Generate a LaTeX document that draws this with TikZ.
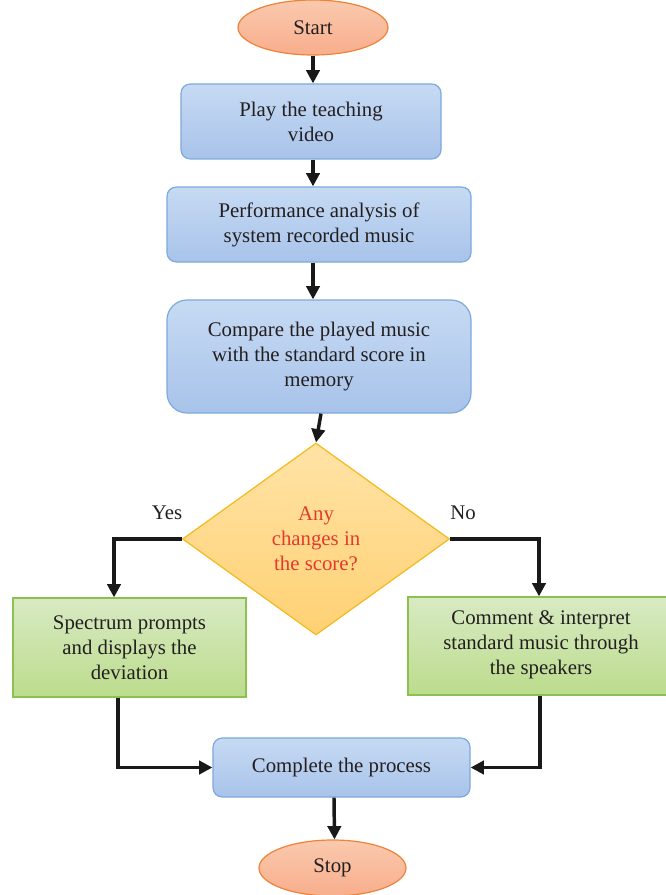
\documentclass[tikz,border=0pt]{standalone}
\usepackage{fontspec}
\setmainfont{Liberation Serif}
\usetikzlibrary{shapes.geometric,arrows.meta,calc}
\definecolor{txt}{HTML}{231F20}
\definecolor{bluetop}{HTML}{C6DAF3}
\definecolor{bluebot}{HTML}{A8C3EA}
\definecolor{blueline}{HTML}{7DA9DC}
\definecolor{greentop}{HTML}{D8EAC3}
\definecolor{greenbot}{HTML}{BCDC8C}
\definecolor{greenline}{HTML}{8CC152}
\definecolor{dtop}{HTML}{FFE3A6}
\definecolor{dbot}{HTML}{FFD174}
\definecolor{dline}{HTML}{F4BA1B}
\definecolor{otop}{HTML}{FAC9AE}
\definecolor{obot}{HTML}{F8AE8C}
\definecolor{oline}{HTML}{EE8338}
\definecolor{qred}{HTML}{E23B2B}
\begin{document}
\begin{tikzpicture}[x=0.75pt,y=-0.75pt,
  every node/.style={text=txt,font=\fontsize{15.6}{18.75}\selectfont,align=center,inner sep=0pt},
  bluebox/.style={draw=blueline,line width=0.9pt,top color=bluetop,bottom color=bluebot,rounded corners=7pt},
  greenbox/.style={draw=greenline,line width=0.9pt,top color=greentop,bottom color=greenbot},
  term/.style={ellipse,draw=oline,line width=0.9pt,top color=otop,bottom color=obot},
  decision/.style={diamond,draw=dline,line width=0.9pt,top color=dtop,bottom color=dbot},
  flow/.style={line width=2.6pt,draw=black!90,-{Triangle[length=10pt,width=10pt]}}]
\useasboundingbox (0,0) rectangle (666,895);
\clip (0,0) rectangle (666,895);
\node[term,minimum width=112.5pt,minimum height=41.25pt] (start) at (313,27.5) {Start};
\node[bluebox,minimum width=195pt,minimum height=56.25pt] (b1) at (311,121.5) {Play the teaching\\video};
\node[bluebox,minimum width=228pt,minimum height=56.25pt] (b2) at (319,224.5) {Performance analysis of\\system recorded music};
\node[bluebox,rounded corners=15pt,minimum width=228pt,minimum height=84.75pt] (b3) at (319,356.5) {Compare the played music\\with the standard score in\\memory};
\node[decision,minimum width=200.25pt,minimum height=144pt] (dia) at (316,539) {};
\node[text=qred] (q) at (316,539) {Any\\changes in\\the score?};
\node (yes) at (167,513) {Yes};
\node (no) at (463,513) {No};
\node[greenbox,minimum width=174.75pt,minimum height=74.25pt] (g1) at (129.5,647.5) {Spectrum prompts\\and displays the\\deviation};
\node[greenbox,minimum width=195pt,minimum height=73.5pt] (g2) at (538,646) {};
\node (g2t) at (541,645) {Comment \& interpret\\standard music through\\the speakers};
\node[bluebox,minimum width=192.75pt,minimum height=44.25pt] (comp) at (341.5,767.5) {Complete the process};
\node[term,minimum width=110.25pt,minimum height=42pt] (stop) at (332.5,868) {Stop};
\draw[flow] (start.south) -- (b1.north -| start.south);
\draw[flow] (b1.south -| start) -- (b2.north -| start);
\draw[flow] (b2.south -| start) -- (b3.north -| start);
\draw[flow] ($(b3.south)+(2,0)$) -- (dia.north);
\draw[flow] (dia.west) -| ($(g1.north)+(-15.5,0)$);
\draw[flow] (dia.east) -| ($(g2.north)+(1,0)$);
\draw[flow] ($(g1.south)+(-11.5,0)$) |- (comp.west);
\draw[flow] ($(g2.south)+(2,0)$) |- (comp.east);
\draw[flow] ($(comp.south)+(-7.5,0)$) -- ($(stop.north)+(2,0)$);
\end{tikzpicture}
\end{document}
